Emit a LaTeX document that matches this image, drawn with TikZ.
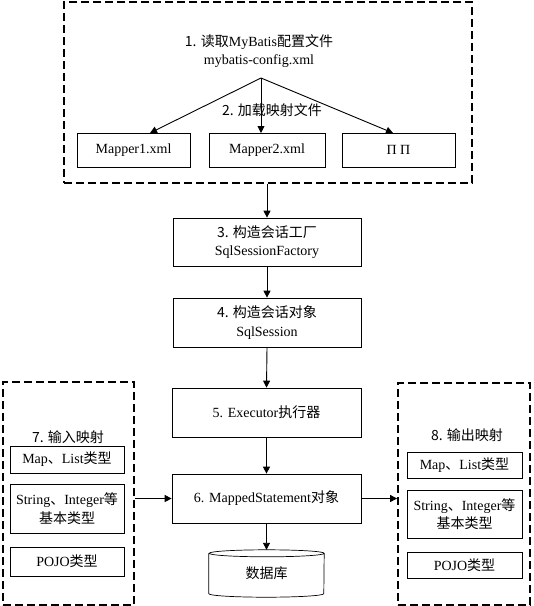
\documentclass[tikz,border=0pt]{standalone}
\usepackage{fontspec}
\setmainfont{Liberation Serif}
\newfontfamily\cjk{Noto Sans CJK SC}
\usetikzlibrary{arrows.meta}
\newcommand{\cj}[1]{{\cjk #1}}
\newcommand{\fs}{\fontsize{14}{18.5}\selectfont}
\tikzset{
  box/.style={draw, line width=0.7pt, inner sep=0pt, align=center, font=\fs},
  dbox/.style={draw, line width=1.8pt, dash pattern=on 8pt off 4pt, inner sep=0pt},
  lbl/.style={inner sep=0pt, align=center, font=\fs},
  arr/.style={-{Triangle[length=7pt,width=7pt]}, line width=0.9pt},
}
\begin{document}
\begin{tikzpicture}[x=1pt,y=1pt]
\useasboundingbox (0,0) rectangle (534,-606);
% top group
\node[dbox, minimum width=408pt, minimum height=181pt] (top) at (268,-92.5) {};
\node[lbl] (t1) at (259,-51) {\cj{1. 读取}MyBatis\cj{配置文件}\\mybatis-config.xml};
\coordinate (src) at (261,-78);
\node[box, minimum width=113pt, minimum height=34pt] (m1) at (133.5,-150) {Mapper1.xml};
\node[box, minimum width=116pt, minimum height=34pt] (m2) at (267,-150) {Mapper2.xml};
\node[box, minimum width=113pt, minimum height=34pt] (m3) at (398.5,-150) {Π Π};
\coordinate (e1) at (150,-133);
\coordinate (e2) at (261,-133);
\coordinate (e3) at (393,-133);
\draw[arr] (src) -- (e1);
\draw[arr] (src) -- (e2);
\draw[arr] (src) -- (e3);
\node[lbl] (t2) at (272,-110) {\cj{2. 加载映射文件}};
% main chain
\node[box, minimum width=188pt, minimum height=48pt] (b3) at (267,-242) {\cj{3. 构造会话工厂}\\SqlSessionFactory};
\node[box, minimum width=188pt, minimum height=49pt] (b4) at (267,-322.5) {\cj{4. 构造会话对象}\\SqlSession};
\node[box, minimum width=189pt, minimum height=49pt] (b5) at (266.5,-412.5) {5. Executor\cj{执行器}};
\node[box, minimum width=189pt, minimum height=49pt] (b6) at (266.5,-498.5) {6. MappedStatement\cj{对象}};
\node[lbl, minimum width=115pt, minimum height=47pt] (db) at (266.5,-573.5) {\cj{数据库}};
\draw[line width=0.7pt] ([yshift=-3.5pt]db.north west) -- ([yshift=3.5pt]db.south west)
  arc[start angle=180, end angle=360, x radius=57.5pt, y radius=3.5pt]
  -- ([yshift=-3.5pt]db.north east)
  arc[start angle=0, end angle=360, x radius=57.5pt, y radius=3.5pt];
\draw[arr] (top.south -| b3.north) -- (b3.north);
\draw[arr] (b3.south) -- (b4.north);
\draw[arr] (b4.south) -- (b5.north);
\draw[arr] (b5.south) -- (b6.north);
\draw[arr] (b6.south) -- (db.north);
% left group
\node[dbox, minimum width=131pt, minimum height=223pt] (left) at (68.5,-493.5) {};
\node[lbl] (t7) at (68,-437) {\cj{7. 输入映射}};
\node[box, minimum width=114pt, minimum height=27pt] (lm) at (67,-459.5) {Map\cj{、}List\cj{类型}};
\node[box, minimum width=114pt, minimum height=49pt] (ls) at (67,-508.5) {String\cj{、}Integer\cj{等}\\\cj{基本类型}};
\node[box, minimum width=114pt, minimum height=29pt] (lp) at (67,-561.5) {POJO\cj{类型}};
% right group
\node[dbox, minimum width=132pt, minimum height=222pt] (right) at (464,-494) {};
\node[lbl] (t8) at (467,-435) {\cj{8. 输出映射}};
\node[box, minimum width=115pt, minimum height=26pt] (rm) at (464.5,-465) {Map\cj{、}List\cj{类型}};
\node[box, minimum width=115pt, minimum height=48pt] (rs) at (464.5,-514) {String\cj{、}Integer\cj{等}\\\cj{基本类型}};
\node[box, minimum width=115pt, minimum height=26pt] (rp) at (464.5,-565) {POJO\cj{类型}};
\draw[arr] (left.east |- b6.west) -- (b6.west);
\draw[arr] (b6.east) -- (right.west |- b6.east);
\end{tikzpicture}
\end{document}
